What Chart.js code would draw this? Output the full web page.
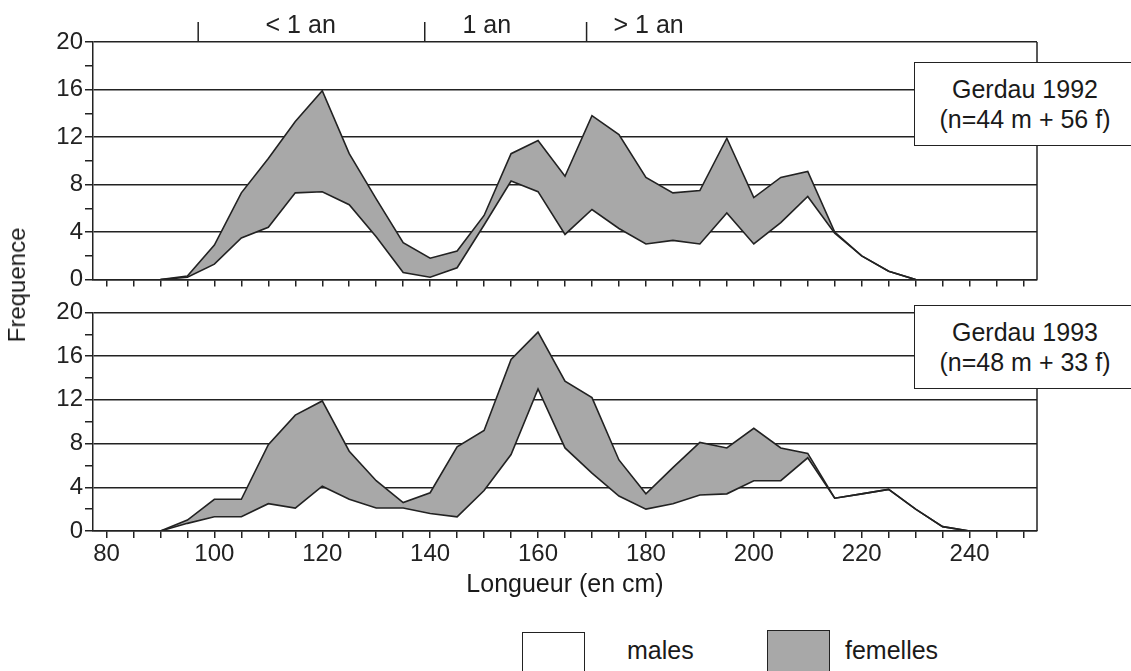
<!DOCTYPE html>
<html lang="fr">
<head>
    <meta charset="UTF-8">
    <title>Gerdau - fréquences de longueur</title>
    <script src="https://cdn.jsdelivr.net/npm/chart.js"></script>
    <style>
        body { margin: 0; background: #fff; font-family: "Liberation Sans", Arial, sans-serif; color: #1a1a1a; }
        .page { position: relative; width: 1131px; height: 671px; overflow: hidden; }
        canvas { position: absolute; left: 0; }
        #chart1992 { top: 0; }
        #chart1993 { top: 296px; }
        .note {
            position: absolute; left: 914px; width: 222px; height: 84px;
            box-sizing: border-box; border: 1.5px solid #222; background: #fff;
            text-align: center; font-size: 25px; line-height: 30px; padding-top: 11px;
        }
        .ytitle {
            position: absolute; left: 17px; top: 285px; font-size: 24px; white-space: nowrap;
            transform: translate(-50%, -50%) rotate(-90deg);
        }
        .xtitle { position: absolute; left: 565px; top: 568px; font-size: 25px; line-height: 30px; transform: translateX(-50%); white-space: nowrap; }
        .swatch { position: absolute; width: 63px; height: 50px; box-sizing: border-box; border: 1.5px solid #222; }
        .legend-text { position: absolute; top: 635px; font-size: 25px; line-height: 30px; }
    </style>
</head>
<body>
<div class="page">
    <canvas id="chart1992" width="1131" height="296"></canvas>
    <canvas id="chart1993" width="1131" height="275"></canvas>

    <div class="note" style="top:62px">Gerdau 1992<br>(n=44 m + 56 f)</div>
    <div class="note" style="top:305px">Gerdau 1993<br>(n=48 m + 33 f)</div>

    <div class="ytitle">Frequence</div>
    <div class="xtitle">Longueur (en cm)</div>

    <div class="swatch" style="left:522px; top:632px; background:#fff"></div>
    <div class="legend-text" style="left:627px">males</div>
    <div class="swatch" style="left:767px; top:630px; background:#a8a8a8"></div>
    <div class="legend-text" style="left:845px">femelles</div>
</div>

<script>
    // classes de longueur (cm)
    const lengths1992 = [90, 95, 100, 105, 110, 115, 120, 125, 130, 135, 140, 145, 150, 155, 160,
                         165, 170, 175, 180, 185, 190, 195, 200, 205, 210, 215, 220, 225, 230];
    const lengths1993 = [90, 95, 100, 105, 110, 115, 120, 125, 130, 135, 140, 145, 150, 155, 160,
                         165, 170, 175, 180, 185, 190, 195, 200, 205, 210, 215, 220, 225, 230, 235, 240];

    // fréquences 1992
    const males1992 = [0, 0.2, 1.3, 3.5, 4.4, 7.3, 7.4, 6.3, 3.6, 0.6, 0.2, 1.0, 4.6, 8.3, 7.4,
                       3.8, 5.9, 4.3, 3.0, 3.3, 3.0, 5.6, 3.0, 4.8, 7.0, 3.9, 2.0, 0.7, 0];
    const femelles1992 = [0, 0.1, 1.6, 3.8, 5.8, 6.0, 8.5, 4.3, 3.2, 2.5, 1.6, 1.4, 0.8, 2.3, 4.3,
                          4.9, 7.9, 7.9, 5.6, 4.0, 4.5, 6.3, 3.9, 3.8, 2.1, 0.1, 0, 0, 0];

    // fréquences 1993
    const males1993 = [0, 0.7, 1.3, 1.3, 2.5, 2.1, 4.1, 2.9, 2.1, 2.1, 1.6, 1.3, 3.7, 7.0, 13.0,
                       7.6, 5.3, 3.2, 2.0, 2.5, 3.3, 3.4, 4.6, 4.6, 6.7, 3.0, 3.4, 3.8, 2.0, 0.4, 0];
    const femelles1993 = [0, 0.3, 1.6, 1.6, 5.4, 8.5, 7.8, 4.4, 2.5, 0.5, 1.9, 6.4, 5.5, 8.7, 5.2,
                          6.1, 6.9, 3.3, 1.4, 3.3, 4.8, 4.2, 4.8, 3.0, 0.4, 0, 0, 0, 0, 0, 0];

    // graduations
    const xTicks = [80, 85, 90, 95, 100, 105, 110, 115, 120, 125, 130, 135, 140, 145, 150, 155, 160, 165,
                    170, 175, 180, 185, 190, 195, 200, 205, 210, 215, 220, 225, 230, 235, 240, 245, 250];
    const xLabels = [80, 100, 120, 140, 160, 180, 200, 220, 240];
    const yLabels = [0, 4, 8, 12, 16, 20];

    // classes d'âge au-dessus du graphique
    const ageLimits = [97, 139, 169];
    const ageClasses = ['< 1 an', '1 an', '> 1 an'];
    const ageLabelAt = [116, 150.5, 180.5];

    const ink = '#222';
    const fillGrey = '#a8a8a8';
    const font = { family: '"Liberation Sans", Arial, sans-serif', size: 24 };

    const rightBorder = {
        id: 'rightBorder',
        afterDraw(chart) {
            const { ctx, chartArea } = chart;
            ctx.save();
            ctx.strokeStyle = ink;
            ctx.lineWidth = 1.5;
            ctx.beginPath();
            ctx.moveTo(chartArea.right, chartArea.top);
            ctx.lineTo(chartArea.right, chartArea.bottom);
            ctx.stroke();
            ctx.restore();
        }
    };

    const ageBracket = {
        id: 'ageBracket',
        afterDraw(chart) {
            const { ctx, chartArea, scales: { x } } = chart;
            ctx.save();
            ctx.strokeStyle = ink;
            ctx.lineWidth = 1.5;
            ageLimits.forEach(v => {
                const px = x.getPixelForValue(v);
                ctx.beginPath();
                ctx.moveTo(px, chartArea.top);
                ctx.lineTo(px, chartArea.top - 20);
                ctx.stroke();
            });
            ctx.fillStyle = ink;
            ctx.font = '25px "Liberation Sans", Arial, sans-serif';
            ctx.textAlign = 'center';
            ageClasses.forEach((t, i) => ctx.fillText(t, x.getPixelForValue(ageLabelAt[i]), chartArea.top - 9));
            ctx.restore();
        }
    };

    function toPoints(xs, ys) {
        return xs.map((x, i) => ({ x: x, y: ys[i] }));
    }

    function createPanel(id, lengths, males, femelles, opts) {
        const ctx = document.getElementById(id).getContext('2d');
        return new Chart(ctx, {
            type: 'line',
            data: {
                datasets: [
                    {
                        label: 'males',
                        data: toPoints(lengths, males),
                        borderColor: ink,
                        borderWidth: 1.6,
                        pointRadius: 0,
                        tension: 0,
                        fill: false
                    },
                    {
                        label: 'femelles',
                        data: toPoints(lengths, femelles),
                        borderColor: ink,
                        borderWidth: 1.6,
                        backgroundColor: fillGrey,
                        pointRadius: 0,
                        tension: 0,
                        fill: '-1'
                    }
                ]
            },
            options: {
                responsive: false,
                animation: false,
                layout: { padding: { top: opts.top, right: 94, left: 0, bottom: 0 } },
                plugins: { legend: { display: false }, tooltip: { enabled: false } },
                scales: {
                    x: {
                        type: 'linear',
                        min: 77.5,
                        max: 252.5,
                        afterBuildTicks: s => { s.ticks = xTicks.map(v => ({ value: v })); },
                        afterFit: s => { s.height = opts.xHeight; },
                        border: { color: ink, width: 1.5 },
                        grid: { drawOnChartArea: false, drawTicks: true, tickLength: 7, color: ink, lineWidth: 1.5 },
                        ticks: {
                            autoSkip: false,
                            maxRotation: 0,
                            minRotation: 0,
                            padding: 2,
                            color: ink,
                            font: font,
                            callback: v => (opts.xText && xLabels.includes(v)) ? v : ''
                        }
                    },
                    y: {
                        stacked: true,
                        min: 0,
                        max: 20,
                        afterFit: s => { s.width = 93; },
                        border: { color: ink, width: 1.5 },
                        grid: {
                            color: c => yLabels.includes(c.tick.value) ? ink : 'rgba(0,0,0,0)',
                            tickColor: ink,
                            lineWidth: 1.5,
                            tickLength: 8
                        },
                        ticks: {
                            stepSize: 2,
                            autoSkip: false,
                            padding: 2,
                            color: ink,
                            font: font,
                            callback: v => yLabels.includes(v) ? v : ''
                        }
                    }
                }
            },
            plugins: opts.bracket ? [rightBorder, ageBracket] : [rightBorder]
        });
    }

    createPanel('chart1992', lengths1992, males1992, femelles1992, { top: 42, xHeight: 11, xText: false, bracket: true });
    createPanel('chart1993', lengths1993, males1993, femelles1993, { top: 12, xHeight: 40, xText: true, bracket: false });
</script>
</body>
</html>
